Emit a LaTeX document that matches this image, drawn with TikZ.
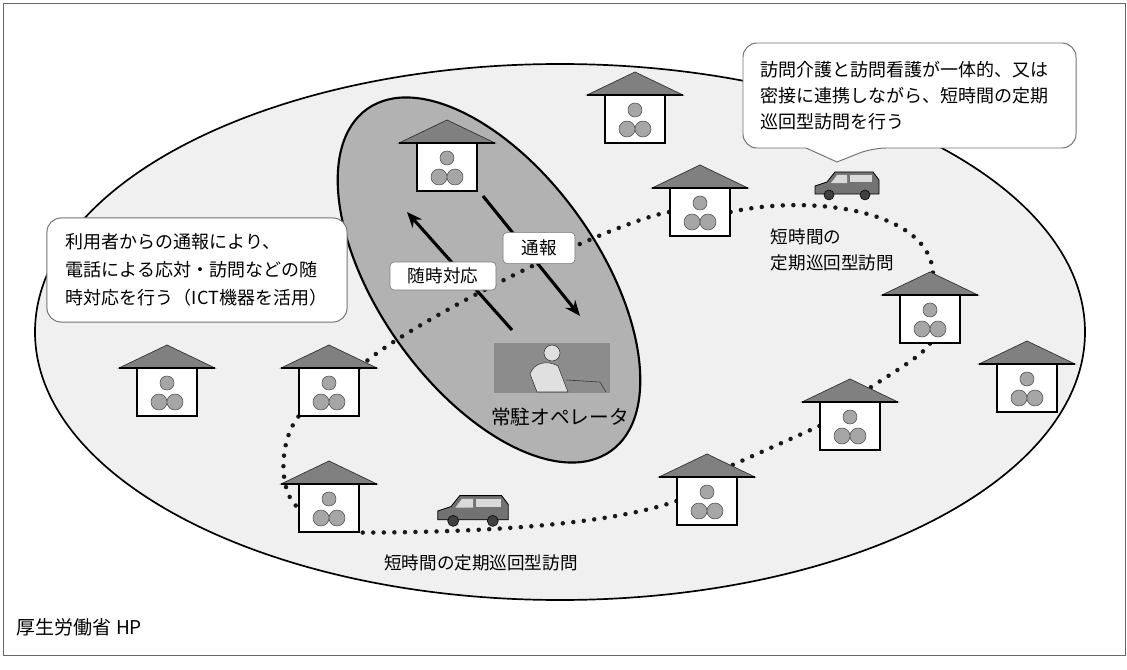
\documentclass[tikz,border=0pt]{standalone}
\usepackage{fontspec}
\setmainfont{Noto Sans CJK JP}
\usetikzlibrary{backgrounds,arrows.meta}
\tikzset{
  hutbox/.style={draw,fill=white,line width=0.8pt,minimum width=1.5cm,minimum height=1.2cm,inner sep=0pt},
  tag/.style={draw=black!55,fill=white,rounded corners=3pt,inner sep=0pt,font=\fontsize{12.5}{15}\selectfont},
  callout/.style={draw=black!55,fill=white,line width=0.7pt},
  route/.style={black!90,line width=3.2pt,line cap=round,dash pattern=on 0pt off 7.5pt},
  hut/.pic={
    \node[hutbox] (-box) at (0,24) {};
    \filldraw[fill=black!50,draw=black!80,line width=0.5pt] (-48,0) -- (0,-23) -- (48,0) -- cycle;
    \draw[line width=1pt] (-48,0) -- (48,0);
    \filldraw[fill=black!35,draw=black!70,line width=0.4pt] (0,15) circle (7) (-8,34) circle (8) (8,34) circle (8);
  },
  van/.pic={
    \filldraw[fill=black!55,draw=black,line width=0.6pt] (-32,8) -- (-32,0) -- (-20,-4) -- (-12,-14) -- (26,-14) -- (32,-6) -- (32,8) -- cycle;
    \fill[black!15] (-10,-11) -- (-16,-3) -- (0,-3) -- (0,-11) -- cycle;
    \fill[black!15] (3,-11) rectangle (25,-4);
    \filldraw[fill=black!75,draw=black] (-18,9) circle (5) (18,9) circle (5);
  }
}
\begin{document}
\begin{tikzpicture}[x=0.025cm,y=-0.025cm]
	\useasboundingbox (0,0) rectangle (1127,670);
	\pic (hA) at (447,143) {hut};
	\pic (hB) at (635,95) {hut};
	\pic (hC) at (700,188) {hut};
	\pic (hD) at (930,295) {hut};
	\pic (hE) at (1027,364) {hut};
	\pic (hF) at (850,402) {hut};
	\pic (hG) at (707,477) {hut};
	\pic (hH) at (167,368) {hut};
	\pic (hI) at (329,368) {hut};
	\pic (hJ) at (329,484) {hut};
	\begin{pgfonlayer}{background}
	\draw[black!60,line width=0.6pt] (3,3) rectangle (1125,655);
	\draw[line width=1.2pt,fill=black!6] (560,332) ellipse (525 and 268);
	\draw[line width=1.5pt,fill=black!30,rotate around={-54.5:(489,280)}] (489,280) ellipse (210 and 110);
	\draw[route] (hI-box.north east) .. controls +(40,-40) and +(-60,10) .. (hC-box.west);
	\draw[route] (hC-box.east) .. controls +(90,-20) and +(25,-80) .. (hD-box.north);
	\draw[route] (hD-box.south) .. controls +(-10,15) and +(35,-25) .. (hF-box.north);
	\draw[route] (hF-box.west) -- (hG-box.north);
	\draw[route] (hG-box.west) .. controls +(-70,25) and +(110,0) .. (hJ-box.south east);
	\draw[route] (hI-box.south west) .. controls +(-20,25) and +(-20,-15) .. (hJ-box.west);
	\end{pgfonlayer}
	\node[fill=black!45,minimum width=2.875cm,minimum height=1.25cm,inner sep=0pt] (oper) at (552,368) {};
	\filldraw[fill=black!12,draw=black!80] (537,392) -- (530,374) .. controls (534,362) and (548,360) .. (558,366) -- (568,392) -- cycle;
	\filldraw[fill=black!12,draw=black!80] (552,353) circle (8);
	\draw[black!80] (566,380) -- (600,382) -- (606,392);
	\node[font=\fontsize{14}{16}\selectfont] (operName) at (560,417) {常駐オペレータ};
	\coordinate (zuijiTail) at (512,330);
	\coordinate (zuijiTip) at (407,212);
	\coordinate (tsuhoTail) at (483,196);
	\coordinate (tsuhoTip) at (580,316);
	\draw[line width=2.2pt,-{Stealth[length=11pt,width=9pt]}] (zuijiTail) -- (zuijiTip);
	\draw[line width=2.2pt,-{Stealth[length=11pt,width=9pt]}] (tsuhoTail) -- (tsuhoTip);
	\node[tag,minimum width=2.65cm,minimum height=0.7cm] (zuiji) at (443,276) {随時対応};
	\node[tag,minimum width=1.8cm,minimum height=0.78cm] (tsuho) at (539,248) {通報};
	\pic (vanA) at (847,186) {van};
	\pic[scale=1.1] (vanB) at (473,511) {van};
	\draw[callout] (837,162) -- (806,148) [rounded corners=10pt] -- (743,148) -- (743,43) -- (1076,43) -- (1076,148) -- (872,148) [sharp corners] -- cycle;
	\node[anchor=west,align=left,font=\fontsize{12.8}{18.5}\selectfont] (renkei) at (756,96) {訪問介護と訪問看護が一体的、又は\\密接に連携しながら、短時間の定期\\巡回型訪問を行う};
	\node[callout,rounded corners=10pt,minimum width=7.5cm,minimum height=2.6cm] (tsuhoBox) at (197,270) {};
	\node[anchor=west,align=left,font=\fontsize{12.8}{20}\selectfont] (taiou) at (61,270) {利用者からの通報により、\\電話による応対・訪問などの随\\時対応を行う（ICT機器を活用）};
	\node[anchor=west,align=left,font=\fontsize{12.5}{18}\selectfont] (junkaiA) at (766,250) {短時間の\\定期巡回型訪問};
	\node[font=\fontsize{12.5}{15}\selectfont] (junkaiB) at (481,563) {短時間の定期巡回型訪問};
	\node[anchor=west,font=\fontsize{13.5}{16}\selectfont] (source) at (12,627) {厚生労働省 HP};
\end{tikzpicture}
\end{document}
